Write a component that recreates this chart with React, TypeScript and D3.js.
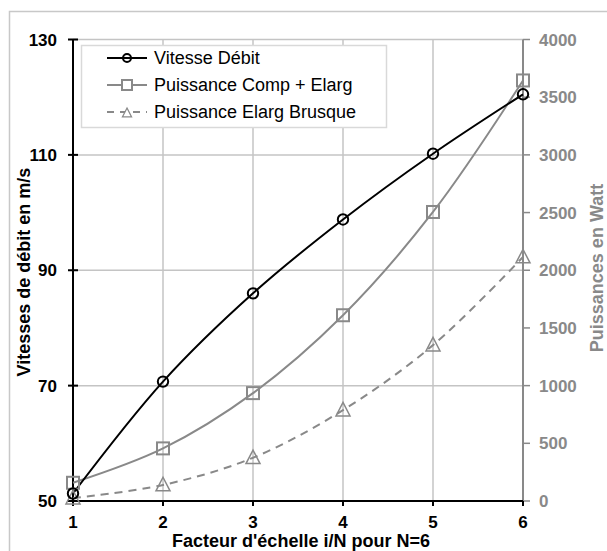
import React from "react";
import * as d3 from "d3";

const factors = [1, 2, 3, 4, 5, 6];
const vitesse = [51.3, 70.7, 86.0, 98.8, 110.2, 120.5];
const puissCompElarg = [158, 456, 935, 1610, 2505, 3645];
const puissElargBrusque = [25, 139, 375, 788, 1351, 2115];
const leftTicks = [50, 70, 90, 110, 130];
const rightTicks = [0, 500, 1000, 1500, 2000, 2500, 3000, 3500, 4000];
const seriesNames = ["Vitesse Débit", "Puissance Comp + Elarg", "Puissance Elarg Brusque"];

const W = 607, H = 551;
const FONT = "Arial, 'Liberation Sans', sans-serif";
const GRAY = "#898989";
const GRID = "#c4c4c4";

export default function App() {
  const x = d3.scaleLinear().domain([1, 6]).range([73, 523]);
  const yL = d3.scaleLinear().domain([50, 130]).range([501, 39.5]);
  const yR = d3.scaleLinear().domain([0, 4000]).range([501, 39.5]);
  const curve = d3.curveCatmullRom.alpha(0.5);

  const lineV = d3.line<number>().x((_, i) => x(factors[i])).y((d) => yL(d)).curve(curve);
  const lineR = d3.line<number>().x((_, i) => x(factors[i])).y((d) => yR(d)).curve(curve);

  const tri = (cx: number, cy: number, s = 12) =>
    `M${cx},${cy - s * 0.55} L${cx + s / 2},${cy + s * 0.42} L${cx - s / 2},${cy + s * 0.42} Z`;

  const legendRows = [58, 85, 112];

  return (
    <div style={{ position: "absolute", left: 0, top: 0 }}>
      <svg width={W} height={H} style={{ display: "block", background: "#fff" }} fontFamily={FONT}>
        <rect x={9.5} y={11.5} width={640} height={600} fill="#fff" stroke="#c8c8c8" strokeWidth={1.5} />
        {/* gridlines */}
        {[2, 3, 4, 5].map((f) => (
          <line key={"gx" + f} x1={x(f)} x2={x(f)} y1={yL(130)} y2={yL(50)} stroke={GRID} strokeWidth={1.5} />
        ))}
        {leftTicks.filter((t) => t > 50).map((t) => (
          <line key={"gy" + t} x1={x(1)} x2={x(6)} y1={yL(t)} y2={yL(t)} stroke={GRID} strokeWidth={1.5} />
        ))}
        {/* right axis */}
        <line x1={x(6)} x2={x(6)} y1={yR(4000)} y2={yR(0)} stroke={GRAY} strokeWidth={2} />
        {rightTicks.map((t) => (
          <g key={"rt" + t}>
            <line x1={x(6)} x2={x(6) + 7} y1={yR(t)} y2={yR(t)} stroke={GRAY} strokeWidth={1.5} />
            <text x={539} y={yR(t)} dy="0.36em" fontSize={17} fontWeight="bold" fill={GRAY}>{t}</text>
          </g>
        ))}
        {/* left axis */}
        <line x1={x(1)} x2={x(1)} y1={yL(130)} y2={yL(50)} stroke="#000" strokeWidth={2} />
        {leftTicks.map((t) => (
          <g key={"lt" + t}>
            <line x1={x(1) - 5} x2={x(1) + 5} y1={yL(t)} y2={yL(t)} stroke="#000" strokeWidth={2} />
            <text x={57} y={yL(t)} dy="0.36em" textAnchor="end" fontSize={17} fontWeight="bold">{t}</text>
          </g>
        ))}
        {/* bottom axis */}
        <line x1={x(1)} x2={x(6)} y1={yL(50)} y2={yL(50)} stroke="#000" strokeWidth={2} />
        {factors.map((f) => (
          <g key={"bt" + f}>
            <line x1={x(f)} x2={x(f)} y1={yL(50)} y2={yL(50) + 5} stroke="#000" strokeWidth={2} />
            <text x={x(f)} y={528} textAnchor="middle" fontSize={17} fontWeight="bold">{f}</text>
          </g>
        ))}
        {/* axis titles */}
        <text x={301} y={547} textAnchor="middle" fontSize={18} fontWeight="bold">Facteur d'échelle i/N pour N=6</text>
        <text transform={`translate(30,272) rotate(-90)`} textAnchor="middle" fontSize={18} fontWeight="bold">Vitesses de débit en m/s</text>
        <text transform={`translate(603,268) rotate(-90)`} textAnchor="middle" fontSize={18} fontWeight="bold" fill={GRAY}>Puissances en Watt</text>

        {/* series */}
        <path d={lineR(puissElargBrusque) || ""} fill="none" stroke={GRAY} strokeWidth={2} strokeDasharray="8,6" />
        <path d={lineR(puissCompElarg) || ""} fill="none" stroke={GRAY} strokeWidth={2} />
        <path d={lineV(vitesse) || ""} fill="none" stroke="#000" strokeWidth={2} />
        {puissElargBrusque.map((v, i) => (
          <path key={"tr" + i} d={tri(x(factors[i]), yR(v), 14)} fill="none" stroke={GRAY} strokeWidth={1.5} />
        ))}
        {puissCompElarg.map((v, i) => (
          <rect key={"sq" + i} x={x(factors[i]) - 6} y={yR(v) - 6} width={12} height={12} fill="none" stroke={GRAY} strokeWidth={2} />
        ))}
        {vitesse.map((v, i) => (
          <circle key={"c" + i} cx={x(factors[i])} cy={yL(v)} r={5.2} fill="none" stroke="#000" strokeWidth={2} />
        ))}

        {/* legend */}
        <rect x={81.5} y={45.5} width={305} height={82} fill="#fff" stroke="#d9d9d9" strokeWidth={1.5} />
        <line x1={107} x2={147} y1={legendRows[0]} y2={legendRows[0]} stroke="#000" strokeWidth={2} />
        <circle cx={127} cy={legendRows[0]} r={4} fill="none" stroke="#000" strokeWidth={2} />
        <line x1={107} x2={147} y1={legendRows[1]} y2={legendRows[1]} stroke={GRAY} strokeWidth={2} />
        <rect x={122} y={legendRows[1] - 5} width={10} height={10} fill="#fff" stroke={GRAY} strokeWidth={2} />
        <line x1={107} x2={147} y1={legendRows[2]} y2={legendRows[2]} stroke={GRAY} strokeWidth={2} strokeDasharray="7,6" />
        <path d={tri(127, legendRows[2] + 1, 9)} fill="#fff" stroke={GRAY} strokeWidth={1.3} />
        {seriesNames.map((n, i) => (
          <text key={n} x={154} y={legendRows[i]} dy="0.36em" fontSize={18}>{n}</text>
        ))}
      </svg>
    </div>
  );
}
